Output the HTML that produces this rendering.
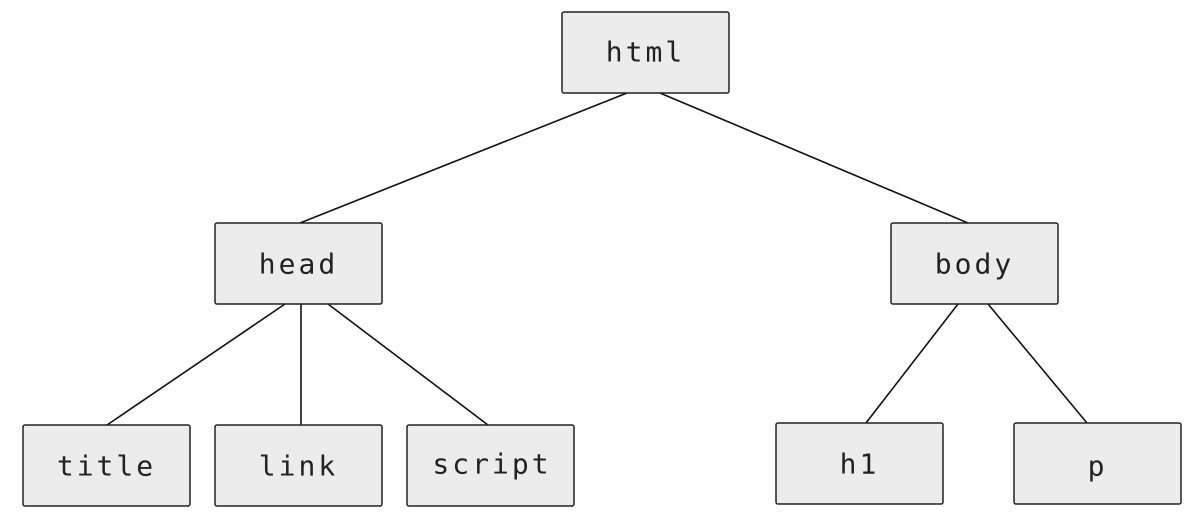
<!DOCTYPE html>
<html><head><meta charset="utf-8"><style>
html,body{margin:0;padding:0;background:#fff;}
svg{display:block}
text{font-family:"DejaVu Sans Mono","Liberation Mono",monospace;font-size:28px;fill:#222;text-anchor:middle;dominant-baseline:central;letter-spacing:3px}
rect{fill:#ececec;stroke:#222;stroke-width:1.5}
line{stroke:#111;stroke-width:1.6}
</style></head><body>
<svg width="1200" height="520" viewBox="0 0 1200 520">
<line x1="627" y1="93" x2="300" y2="223"/>
<line x1="660" y1="93" x2="968" y2="223"/>
<line x1="285" y1="304" x2="107" y2="425"/>
<line x1="301" y1="304" x2="301" y2="425"/>
<line x1="328" y1="304" x2="488" y2="425"/>
<line x1="958" y1="304" x2="866" y2="423"/>
<line x1="988" y1="304" x2="1087" y2="423"/>
<rect x="562" y="12" width="167" height="81" rx="2"/><text x="645.5" y="52">html</text>
<rect x="215" y="223" width="167" height="81" rx="2"/><text x="298.5" y="264">head</text>
<rect x="891" y="223" width="167" height="81" rx="2"/><text x="974.5" y="264">body</text>
<rect x="23" y="425" width="167" height="81" rx="2"/><text x="106.5" y="466">title</text>
<rect x="215" y="425" width="167" height="81" rx="2"/><text x="298.5" y="466">link</text>
<rect x="407" y="425" width="167" height="81" rx="2"/><text x="492" y="464">script</text>
<rect x="776" y="423" width="167" height="81" rx="2"/><text x="859.5" y="464">h1</text>
<rect x="1014" y="423" width="167" height="81" rx="2"/><text x="1097.5" y="466">p</text>
</svg>
</body></html>
